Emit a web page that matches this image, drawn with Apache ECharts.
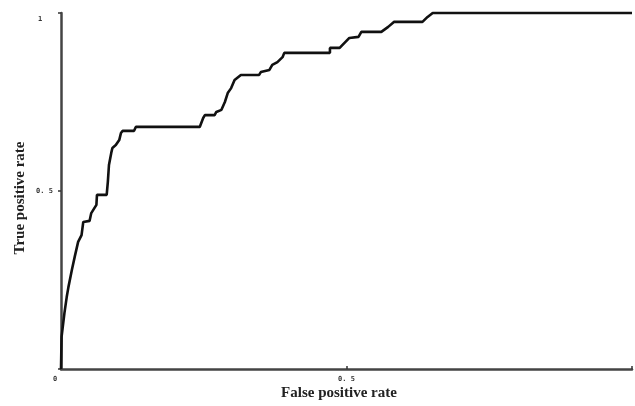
<!DOCTYPE html>
<html><head><meta charset="utf-8">
<script src="https://cdn.jsdelivr.net/npm/echarts@6/dist/echarts.min.js"></script>
<style>html,body{margin:0;padding:0;background:#fff}#c{width:635px;height:406px}</style>
</head><body><div id="c"></div>
<script>
var fpr = [0,0.001,0.006,0.010,0.013,0.019,0.024,0.030,0.036,0.039,0.050,0.053,0.062,0.063,0.080,0.082,0.084,0.088,0.090,0.096,0.102,0.105,0.108,0.128,0.131,0.243,0.249,0.252,0.269,0.272,0.281,0.287,0.292,0.298,0.304,0.315,0.347,0.350,0.365,0.370,0.379,0.388,0.391,0.471,0.471,0.488,0.505,0.521,0.526,0.561,0.573,0.583,0.633,0.642,0.651,0.99,1.0];
var tpr = [0,0.090,0.157,0.202,0.230,0.278,0.315,0.357,0.376,0.413,0.416,0.438,0.461,0.489,0.489,0.525,0.573,0.607,0.621,0.629,0.643,0.663,0.669,0.669,0.680,0.680,0.705,0.713,0.713,0.722,0.728,0.750,0.775,0.789,0.812,0.826,0.826,0.834,0.840,0.854,0.862,0.876,0.888,0.888,0.902,0.902,0.930,0.933,0.947,0.947,0.961,0.975,0.975,0.989,1.0,1.0,1.0];
var xTickLabels = ['0', '0. 5'];
var yTickLabels = ['0. 5', '1'];
var xTitle = 'False positive rate';
var yTitle = 'True positive rate';

var data = fpr.map(function(x,i){return [x,tpr[i]];});
var chart = echarts.init(document.getElementById('c'), null, {renderer:'canvas'});
var labelFont = {fontFamily:'DejaVu Sans Mono', fontSize:7, fontWeight:'bold', color:'#333'};
chart.setOption({
  animation:false,
  grid:{left:61, right:-4, top:13, bottom:37, containLabel:false},
  xAxis:{type:'value', min:0, max:1, interval:0.5,
    axisLine:{show:true, lineStyle:{color:'#444', width:2.5}},
    axisTick:{show:true, inside:true, length:3, lineStyle:{color:'#333', width:1.5}},
    splitLine:{show:false},
    axisLabel:Object.assign({margin:7, formatter:function(v){
      if (v===0) return '{z|' + xTickLabels[0] + '}'; if (v===0.5) return xTickLabels[1]; return '';},
      rich:{z:{fontFamily:'DejaVu Sans Mono', fontSize:7, fontWeight:'bold', color:'#333', padding:[0,12,0,0]}}}, labelFont)
  },
  yAxis:{type:'value', min:0, max:1, interval:0.5,
    axisLine:{show:true, lineStyle:{color:'#444', width:2.5}},
    axisTick:{show:true, length:3, lineStyle:{color:'#333', width:1.5}},
    splitLine:{show:false},
    axisLabel:Object.assign({margin:25, align:'left', formatter:function(v){
      if (v===0.5) return yTickLabels[0]; if (v===1) return '{o|' + yTickLabels[1] + '}'; return '';},
      rich:{o:{fontFamily:'DejaVu Sans Mono', fontSize:7, fontWeight:'bold', color:'#333', padding:[12,0,0,2]}}}, labelFont)
  },
  graphic:[
    {type:'text', x:339, y:393, style:{text:xTitle, font:'bold 15px "Liberation Serif"', fill:'#222', align:'center', verticalAlign:'middle'}},
    {type:'text', rotation:Math.PI/2, x:20, y:198, style:{text:yTitle, font:'bold 15px "Liberation Serif"', fill:'#222', align:'center', verticalAlign:'middle'}}
  ],
  series:[{type:'line', data:data, showSymbol:false, symbol:'none',
    lineStyle:{color:'#111', width:2.6}, clip:false}]
});
</script></body></html>
